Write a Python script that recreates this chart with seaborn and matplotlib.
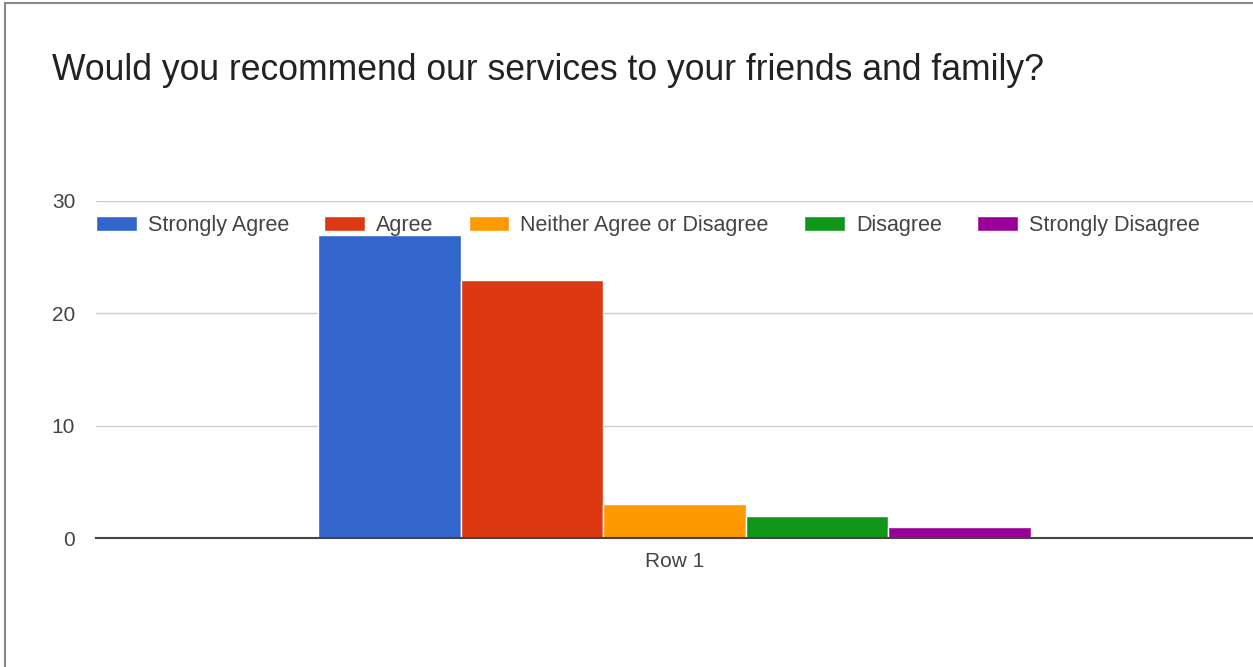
import pandas as pd
import matplotlib
matplotlib.use("Agg")
import matplotlib.pyplot as plt
import seaborn as sns
from matplotlib.lines import Line2D

# Survey responses
responses = ["Strongly Agree", "Agree", "Neither Agree or Disagree", "Disagree", "Strongly Disagree"]
counts = [27, 23, 3, 2, 1]
row_label = ["Row 1"]
palette = ["#3366CC", "#DC3912", "#FF9900", "#109618", "#990099"]

df = pd.DataFrame({
    "row": row_label * len(responses),
    "response": responses,
    "count": counts,
})

sns.set_theme(style="white")
plt.rcParams["font.family"] = ["Liberation Sans", "DejaVu Sans"]

fig = plt.figure(figsize=(12.53, 6.67), dpi=100)
ax = fig.add_axes([96 / 1253, 1 - 538 / 667, 1 - 96 / 1253, (538 - 201) / 667])

sns.barplot(data=df, x="row", y="count", hue="response", hue_order=responses,
            palette=palette, width=0.616, saturation=1, edgecolor="white",
            linewidth=1, ax=ax)

ax.set_xlim(-0.5, 0.5)
ax.set_ylim(0, 30)
ax.set_yticks([0, 10, 20, 30])
ax.grid(axis="y", color="#cccccc", linewidth=1)
ax.set_axisbelow(True)
for s in ["top", "right", "left"]:
    ax.spines[s].set_visible(False)
ax.spines["bottom"].set_color("#444444")
ax.spines["bottom"].set_linewidth(1.5)
ax.tick_params(axis="both", length=0, labelsize=15, labelcolor="#444444")
ax.tick_params(axis="y", pad=15)
ax.tick_params(axis="x", pad=10)
ax.set_xlabel("")
ax.set_ylabel("")

handles, labels = ax.get_legend_handles_labels()
ax.legend(handles, labels, ncol=5, loc="center left",
          bbox_to_anchor=(0, 1 - 25 / 337), frameon=False, fontsize=15.5,
          handlelength=1.9, handleheight=0.7, handletextpad=0.51,
          columnspacing=1.63, borderpad=0, borderaxespad=0,
          labelcolor="#444444")

fig.text(52 / 1253, 1 - 71 / 667, "Would you recommend our services to your friends and family?",
         fontsize=25.6, color="#222222", va="center", ha="left")

# outer frame of the screenshot
fig.add_artist(Line2D([5 / 1253, 5 / 1253], [0, 1 - 3 / 667], transform=fig.transFigure,
                      color="#888888", linewidth=1.5))
fig.add_artist(Line2D([5 / 1253, 1], [1 - 3 / 667, 1 - 3 / 667], transform=fig.transFigure,
                      color="#888888", linewidth=1.5))

fig.savefig("out.png", dpi=100)
